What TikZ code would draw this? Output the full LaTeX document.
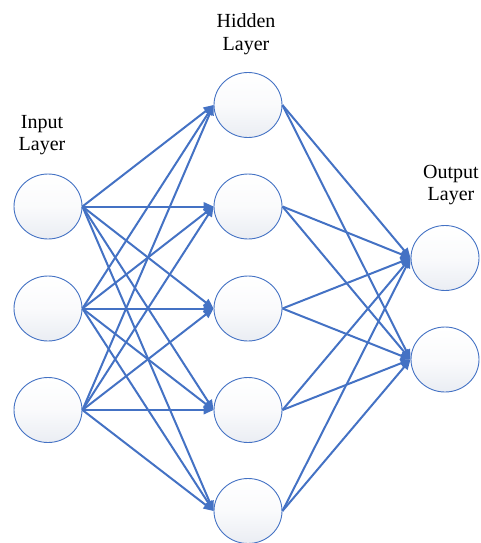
\documentclass[tikz,border=0pt]{standalone}
\usepackage{fontspec}
\setmainfont{Liberation Serif}
\usetikzlibrary{shapes.geometric,arrows.meta}
\definecolor{netblue}{RGB}{68,114,196}
\definecolor{nodeshade}{RGB}{234,237,243}
\tikzset{
  neuron/.style={ellipse, draw=netblue, line width=0.9pt, minimum width=68pt, minimum height=65pt, inner sep=0pt,
    top color=white, bottom color=nodeshade, middle color=white!75!nodeshade},
  conn/.style={draw=netblue, line width=2pt, -{Triangle[length=10pt,width=8.5pt]}},
  lab/.style={align=center, font=\fontsize{20}{22.5}\selectfont, inner sep=0pt}
}
\begin{document}
\begin{tikzpicture}[x=1pt,y=-1pt]
\useasboundingbox (0,0) rectangle (481,543);
% labels
\node[lab] (linput) at (42,135) {Input\\Layer};
\node[lab] (lhidden) at (246,34) {Hidden\\Layer};
\node[lab] (loutput) at (451,185) {Output\\Layer};
% input nodes
\node[neuron] (i1) at (48,206.5) {};
\node[neuron] (i2) at (48,308.5) {};
\node[neuron] (i3) at (48,410) {};
% hidden nodes
\node[neuron] (h1) at (248,105) {};
\node[neuron] (h2) at (248,206.5) {};
\node[neuron] (h3) at (248,308.5) {};
\node[neuron] (h4) at (248,410) {};
\node[neuron] (h5) at (248,511) {};
% output nodes
\node[neuron] (o1) at (445,258) {};
\node[neuron] (o2) at (445,359.5) {};
% connections
\foreach \i in {1,2,3}{
  \foreach \h in {1,...,5}{
    \draw[conn] (i\i.east) -- (h\h.west);
  }
}
\foreach \h in {1,...,5}{
  \foreach \o in {1,2}{
    \draw[conn] (h\h.east) -- (o\o.west);
  }
}
\end{tikzpicture}
\end{document}
